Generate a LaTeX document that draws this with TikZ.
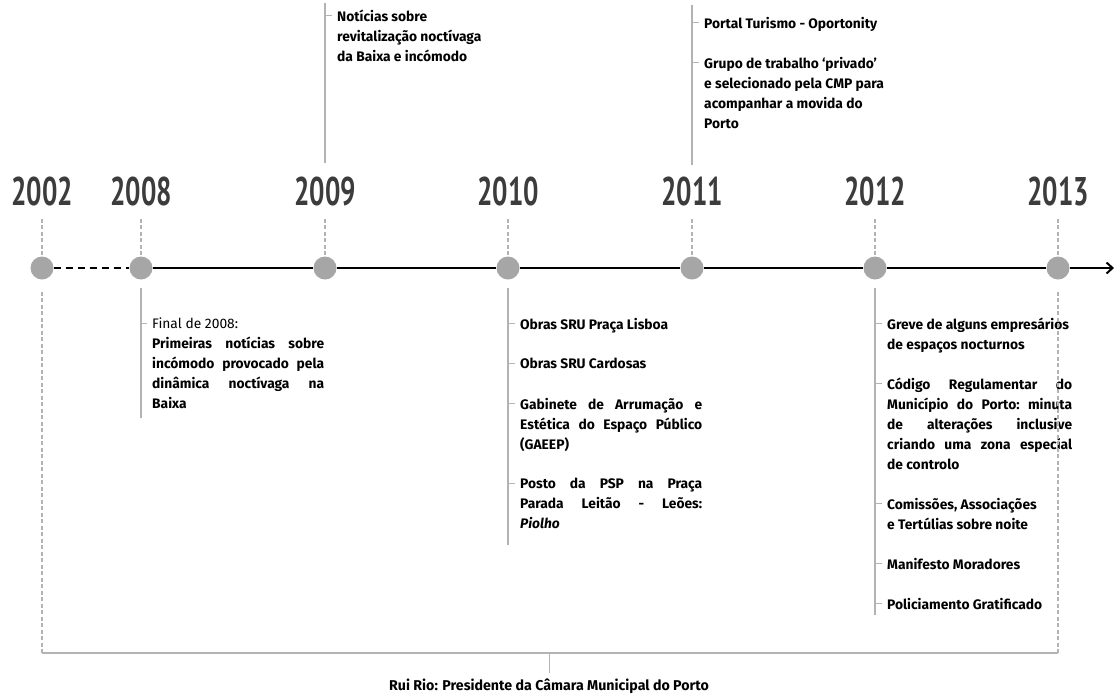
\documentclass[tikz,border=0pt]{standalone}
\usepackage{fontspec}
\setmainfont{Fira Sans}
\newfontfamily\yearfont[FakeStretch=0.68]{PT Sans}
\usetikzlibrary{arrows.meta}
\definecolor{yeargray}{HTML}{3C3C3C}
\definecolor{dotgray}{HTML}{A6A6A6}
\definecolor{guidegray}{HTML}{B3B3B3}
\newcommand\fl{\rule{0pt}{10pt}}
\newcommand\tk[1]{\draw[tick] ([shift={(-12pt,-5.5pt)}]#1.north west) -- ([shift={(-5pt,-5.5pt)}]#1.north west);}
\tikzset{
  yr/.style={font=\yearfont\bfseries\fontsize{40}{40}\selectfont, text=yeargray, inner sep=0pt},
  dot/.style={circle, fill=dotgray, minimum size=23pt, inner sep=0pt},
  guide/.style={draw=guidegray, line width=2pt, dash pattern=on 4pt off 2.5pt},
  stem/.style={draw=guidegray, line width=2pt},
  tick/.style={draw=guidegray, line width=1pt},
  tl/.style={draw=black, line width=2pt},
  entry/.style={anchor=north west, inner sep=0pt, font=\bfseries\fontsize{13.8}{20}\selectfont, text width=#1, align=flush left},
  caption/.style={inner sep=0pt, font=\bfseries\fontsize{14.2}{15}\selectfont},
}
\begin{document}
\begin{tikzpicture}[x=1pt,y=-1pt]
\useasboundingbox (0,0) rectangle (1115,697);

% circles
\node[dot] (c2002) at (42,268) {};
\node[dot] (c2008) at (141,268) {};
\node[dot] (c2009) at (325,268) {};
\node[dot] (c2010) at (508,268) {};
\node[dot] (c2011) at (692,268) {};
\node[dot] (c2012) at (875,268) {};
\node[dot] (c2013) at (1058,268) {};
\coordinate (tip) at (1114,268);

% years
\node[yr] (y2002) at (42,191) {2002};
\node[yr] (y2008) at (141,191) {2008};
\node[yr] (y2009) at (325,191) {2009};
\node[yr] (y2010) at (508,191) {2010};
\node[yr] (y2011) at (692,191) {2011};
\node[yr] (y2012) at (875,191) {2012};
\node[yr] (y2013) at (1058,191) {2013};

% dashed guides above
\foreach \y in {2002,2008,2009,2010,2011,2012,2013}{
  \draw[guide] ([yshift=-13pt]y\y.south) -- (c\y.north);
}

% timeline
\draw[tl, dash pattern=on 7pt off 5pt] (c2002) -- (c2008);
\draw[tl] (c2008) -- (c2009);
\draw[tl] (c2009) -- (c2010);
\draw[tl] (c2010) -- (c2011);
\draw[tl] (c2011) -- (c2012);
\draw[tl] (c2012) -- (c2013);
\draw[tl, -{Straight Barb[length=6pt,width=11pt,line width=2pt]}] (c2013) -- (tip);

% 2009 (top)
\coordinate (s2009a) at (325,3);
\coordinate (s2009b) at (325,163);
\draw[stem] (s2009a) -- (s2009b);
\node[entry=180pt] (t2009) at (337,10) {\fl Notícias sobre\\ revitalização noctívaga\\ da Baixa e incómodo};
\tk{t2009}

% 2011 (top)
\coordinate (s2011a) at (692,5);
\coordinate (s2011b) at (692,165);
\draw[stem] (s2011a) -- (s2011b);
\node[entry=195pt] (t2011a) at (704,17) {\fl Portal Turismo - Oportonity};
\node[entry=195pt] (t2011b) at (704,57) {\fl Grupo de trabalho ‘privado’\\ e selecionado pela CMP para\\ acompanhar a movida do\\ Porto};
\tk{t2011a}
\tk{t2011b}

% 2008 (below)
\coordinate (e2008) at (141,418);
\draw[stem] ([yshift=-8pt]c2008.south) -- (e2008);
\node[entry=172pt] (t2008) at (152,318) {\fl{\mdseries Final de 2008:}\\
Primeiras\hfill notícias\hfill sobre\\
incómodo\hfill provocado\hfill pela\\
dinâmica\hfill noctívaga\hfill na\\
Baixa};
\tk{t2008}

% 2010 (below)
\coordinate (e2010) at (508,545);
\draw[stem] ([yshift=-8pt]c2010.south) -- (e2010);
\node[entry=182pt] (t2010a) at (520,318) {\fl Obras SRU Praça Lisboa};
\node[entry=182pt] (t2010b) at (520,358) {\fl Obras SRU Cardosas};
\node[entry=182pt] (t2010c) at (520,398) {\fl Gabinete\hfill de\hfill Arrumação\hfill e\\
Estética\hfill do\hfill Espaço\hfill Público\\
(GAEEP)};
\node[entry=182pt] (t2010d) at (520,478) {\fl Posto\hfill da\hfill PSP\hfill na\hfill Praça\\
Parada\hfill Leitão\hfill -\hfill Leões:\\
\textit{Piolho}};
\tk{t2010a}
\tk{t2010b}
\tk{t2010c}
\tk{t2010d}

% 2012 (below)
\coordinate (e2012) at (875,615);
\draw[stem] ([yshift=-8pt]c2012.south) -- (e2012);
\node[entry=185pt] (t2012a) at (887,318) {\fl Greve de alguns empresários\\ de espaços nocturnos};
\node[entry=185pt] (t2012b) at (887,378) {\fl Código\hfill Regulamentar\hfill do\\
Município\hfill do\hfill Porto:\hfill minuta\\
de\hfill alterações\hfill inclusive\\
criando\hfill uma\hfill zona\hfill especial\\
de controlo};
\node[entry=185pt] (t2012c) at (887,498) {\fl Comissões, Associações\\ e Tertúlias sobre noite};
\node[entry=185pt] (t2012d) at (887,558) {\fl Manifesto Moradores};
\node[entry=185pt] (t2012e) at (887,598) {\fl Policiamento Gratificado};
\tk{t2012a}
\tk{t2012b}
\tk{t2012c}
\tk{t2012d}
\tk{t2012e}

% bracket 2002 - 2013
\coordinate (b2002) at (42,653);
\coordinate (b2013) at (1058,653);
\coordinate (bmid) at (549,653);
\draw[guide] ([yshift=-12pt]c2002.south) -- (b2002);
\draw[guide] ([yshift=-12pt]c2013.south) -- (b2013);
\draw[draw=guidegray, line width=1.5pt] (b2002) -- (b2013);
\node[caption] (rui) at (549,686) {Rui Rio: Presidente da Câmara Municipal do Porto};
\draw[tick] (bmid) -- ([yshift=5pt]rui.north);
\end{tikzpicture}
\end{document}
